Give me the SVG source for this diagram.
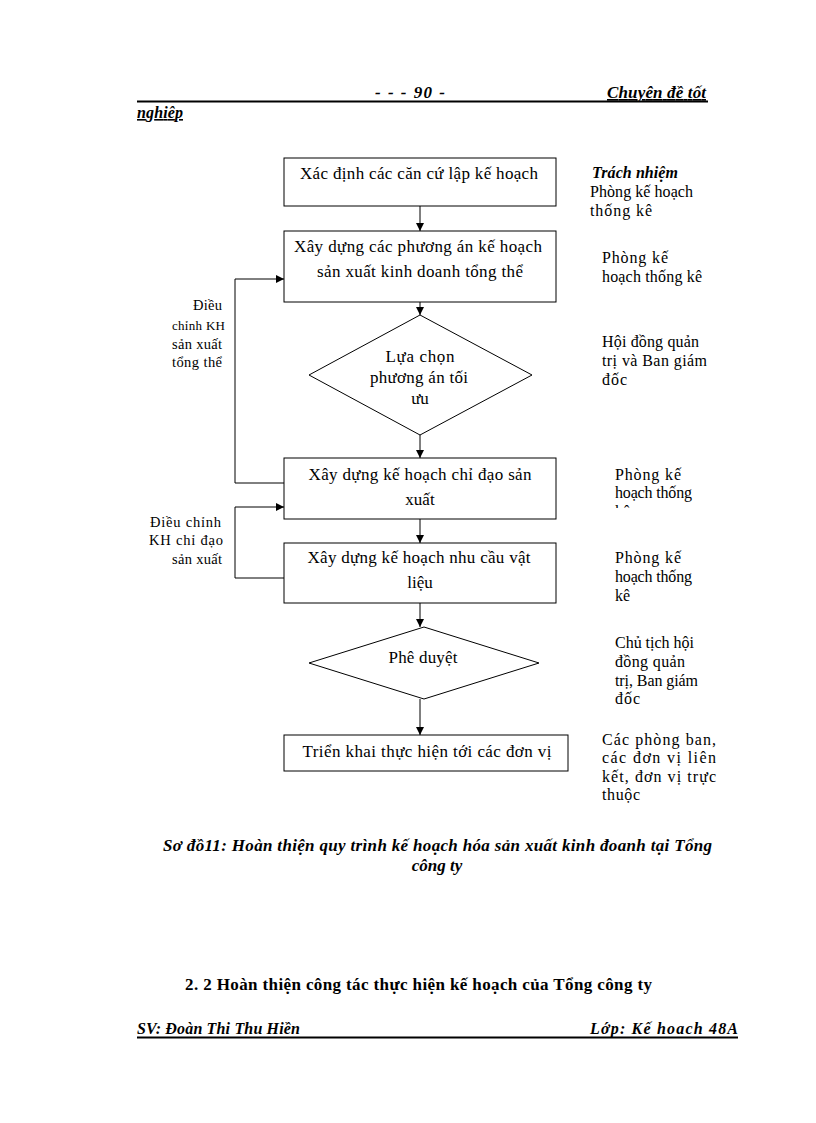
<svg xmlns="http://www.w3.org/2000/svg" width="816" height="1123" viewBox="0 0 816 1123">
<style>
  text { font-family: "Liberation Serif", "Times New Roman", serif; fill: #000; }
  .t { font-size: 17px; }
  .c { text-anchor: middle; }
  .r { text-anchor: end; }
  .s { font-size: 16px; }
  .l { font-size: 14.5px; }
  .bi { font-weight: bold; font-style: italic; }
  .b { font-weight: bold; }
  .box { fill: #fff; stroke: #000; stroke-width: 1; }
  .ln { fill: none; stroke: #000; stroke-width: 1; }
</style>
<defs>
  <marker id="ah" viewBox="0 0 10 10" refX="10" refY="5" markerWidth="8" markerHeight="8" markerUnits="userSpaceOnUse" orient="auto">
    <path d="M0,0 L10,5 L0,10 z" fill="#000"/>
  </marker>
  <clipPath id="clip3"><rect x="590" y="460" width="140" height="48"/></clipPath>
</defs>
<rect width="816" height="1123" fill="#fff"/>

<g id="header">
  <text x="375" y="98" class="t bi" textLength="70" lengthAdjust="spacing">- -   - 90 -</text>
  <text x="607" y="98" class="t bi" text-decoration="underline" textLength="99" lengthAdjust="spacing">Chuyên đề tốt</text>
  <line x1="137" y1="101.5" x2="708" y2="101.5" stroke="#000" stroke-width="2"/>
  <text x="137" y="118" class="s bi" text-decoration="underline" textLength="46" lengthAdjust="spacing">nghiêp</text>
</g>

<g id="connectors">
  <line class="ln" x1="420" y1="206" x2="420" y2="231" marker-end="url(#ah)"/>
  <line class="ln" x1="420" y1="302" x2="420" y2="315" marker-end="url(#ah)"/>
  <line class="ln" x1="420" y1="435" x2="420" y2="458" marker-end="url(#ah)"/>
  <line class="ln" x1="420" y1="519" x2="420" y2="543" marker-end="url(#ah)"/>
  <line class="ln" x1="420" y1="603" x2="420" y2="627" marker-end="url(#ah)"/>
  <line class="ln" x1="420" y1="699" x2="420" y2="735" marker-end="url(#ah)"/>
  <polyline class="ln" points="284,483 235,483 235,279 284,279" marker-end="url(#ah)"/>
  <polyline class="ln" points="284,578 235,578 235,507 284,507" marker-end="url(#ah)"/>
</g>

<g id="n1">
  <rect class="box" x="284" y="158" width="272" height="48"/>
  <text x="419" y="179" class="t c" textLength="238" lengthAdjust="spacing">Xác định các căn cứ lập kế hoạch</text>
</g>
<g id="n2">
  <rect class="box" x="284" y="231" width="272" height="71"/>
  <text x="418" y="252" class="t c" textLength="248" lengthAdjust="spacing">Xây dựng các phương án kế hoạch</text>
  <text x="420" y="277" class="t c" textLength="206" lengthAdjust="spacing">sản xuất kinh doanh tổng thể</text>
</g>
<g id="n3">
  <polygon class="box" points="420,315 532,375 420,435 309,375"/>
  <text x="420" y="362" class="t c" textLength="69" lengthAdjust="spacing">Lựa chọn</text>
  <text x="419" y="383" class="t c" textLength="98" lengthAdjust="spacing">phương án tối</text>
  <text x="420" y="404" class="t c">ưu</text>
</g>
<g id="n4">
  <rect class="box" x="284" y="458" width="272" height="61"/>
  <text x="420" y="480" class="t c" textLength="223" lengthAdjust="spacing">Xây dựng kế hoạch chỉ đạo sản</text>
  <text x="420" y="505" class="t c">xuất</text>
</g>
<g id="n5">
  <rect class="box" x="284" y="543" width="272" height="60"/>
  <text x="419" y="563" class="t c" textLength="223" lengthAdjust="spacing">Xây dựng kế hoạch nhu cầu vật</text>
  <text x="420" y="588" class="t c">liệu</text>
</g>
<g id="n6">
  <polygon class="box" points="424,627 539,663 424,699 309,663"/>
  <text x="423" y="663" class="t c" textLength="69" lengthAdjust="spacing">Phê duyệt</text>
</g>
<g id="n7">
  <rect class="box" x="284" y="735" width="284" height="36"/>
  <text x="427" y="757" class="t c" textLength="249" lengthAdjust="spacing">Triển khai thực hiện tới các đơn vị</text>
</g>

<g id="left-labels">
  <text x="193" y="310" class="l" textLength="29" lengthAdjust="spacing">Điều</text>
  <text x="172" y="330" class="l" style="font-size:13px" textLength="53" lengthAdjust="spacing">chỉnh KH</text>
  <text x="172" y="349" class="l" textLength="50" lengthAdjust="spacing">sản xuất</text>
  <text x="172" y="367" class="l" textLength="50" lengthAdjust="spacing">tổng thể</text>
  <text x="150" y="527" class="l" textLength="71" lengthAdjust="spacing">Điều chỉnh</text>
  <text x="149" y="545" class="l" textLength="74" lengthAdjust="spacing">KH chỉ đạo</text>
  <text x="172" y="564" class="l" textLength="50" lengthAdjust="spacing">sản xuất</text>
</g>

<g id="right-labels">
  <text x="592" y="178" class="s bi" textLength="86" lengthAdjust="spacing">Trách nhiệm</text>
  <text x="590" y="197" class="s" textLength="103" lengthAdjust="spacing">Phòng kế hoạch</text>
  <text x="590" y="216" class="s" textLength="62" lengthAdjust="spacing">thống kê</text>

  <text x="602" y="263" class="s" textLength="66" lengthAdjust="spacing">Phòng kế</text>
  <text x="602" y="282" class="s" textLength="100" lengthAdjust="spacing">hoạch thống kê</text>

  <text x="602" y="347" class="s" textLength="97" lengthAdjust="spacing">Hội đồng quản</text>
  <text x="602" y="366" class="s" textLength="105" lengthAdjust="spacing">trị và Ban giám</text>
  <text x="602" y="385" class="s" textLength="25" lengthAdjust="spacing">đốc</text>

  <text x="615" y="480" class="s" textLength="66" lengthAdjust="spacing">Phòng kế</text>
  <text x="615" y="498" class="s" textLength="77" lengthAdjust="spacing">hoạch thống</text>
  <text x="615" y="517" class="s" clip-path="url(#clip3)">kê</text>

  <text x="615" y="563" class="s" textLength="66" lengthAdjust="spacing">Phòng kế</text>
  <text x="615" y="582" class="s" textLength="77" lengthAdjust="spacing">hoạch thống</text>
  <text x="615" y="601" class="s">kê</text>

  <text x="615" y="648" class="s" textLength="79" lengthAdjust="spacing">Chủ tịch hội</text>
  <text x="615" y="667" class="s" textLength="70" lengthAdjust="spacing">đồng quản</text>
  <text x="615" y="686" class="s" textLength="83" lengthAdjust="spacing">trị, Ban giám</text>
  <text x="615" y="704" class="s" textLength="25" lengthAdjust="spacing">đốc</text>

  <text x="602" y="745" class="s" textLength="114" lengthAdjust="spacing">Các phòng ban,</text>
  <text x="602" y="763" class="s" textLength="114" lengthAdjust="spacing">các đơn vị liên</text>
  <text x="602" y="782" class="s" textLength="114" lengthAdjust="spacing">kết, đơn vị trực</text>
  <text x="602" y="800" class="s" textLength="38" lengthAdjust="spacing">thuộc</text>
</g>

<g id="caption">
  <text x="163" y="851" class="t bi" textLength="549" lengthAdjust="spacing">Sơ đồ11: Hoàn  thiện quy trình kế hoạch hóa sản xuất kinh đoanh tại Tổng</text>
  <text x="437" y="871" class="t bi c">công ty</text>
</g>

<g id="section">
  <text x="185" y="990" class="t b" textLength="467" lengthAdjust="spacing">2. 2 Hoàn thiện công tác thực hiện kế hoạch của Tổng công ty</text>
</g>

<g id="footer">
  <text x="137" y="1034" class="s bi" textLength="163" lengthAdjust="spacing">SV: Đoàn Thi Thu Hiền</text>
  <text x="590" y="1034" class="s bi" textLength="148" lengthAdjust="spacing">Lớp: Kế hoach 48A</text>
  <line x1="137" y1="1037.5" x2="738" y2="1037.5" stroke="#000" stroke-width="2"/>
</g>
</svg>
